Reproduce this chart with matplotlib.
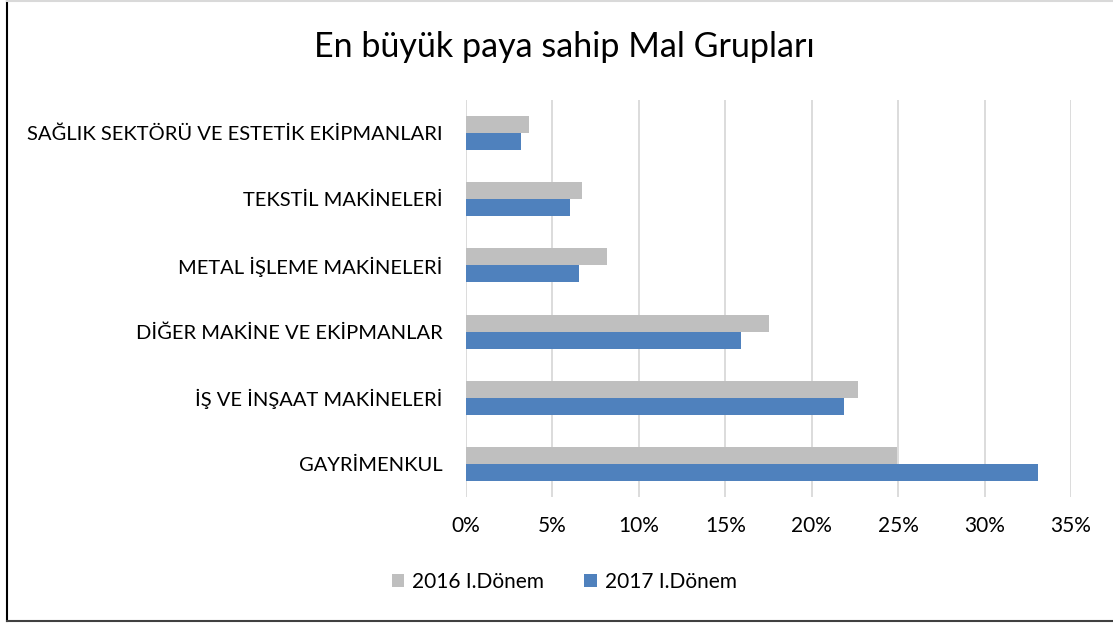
import numpy as np
import matplotlib.pyplot as plt
from matplotlib.lines import Line2D

plt.rcParams['font.family'] = ['Lato', 'DejaVu Sans']

categories = ['GAYRİMENKUL', 'İŞ VE İNŞAAT MAKİNELERİ', 'DİĞER MAKİNE VE EKİPMANLAR',
              'METAL İŞLEME MAKİNELERİ', 'TEKSTİL MAKİNELERİ',
              'SAĞLIK SEKTÖRÜ VE ESTETİK EKİPMANLARI']
vals_2016 = [24.96, 22.65, 17.52, 8.16, 6.72, 3.62]
vals_2017 = [33.10, 21.86, 15.93, 6.55, 6.03, 3.18]
series = ['2016 I.Dönem', '2017 I.Dönem']
xticks = [0, 5, 10, 15, 20, 25, 30, 35]

fig = plt.figure(figsize=(11.13, 6.23), dpi=100)
ax = fig.add_axes([0.4187, 0.2022, 0.9623 - 0.4187, 0.8395 - 0.2022])

y = np.arange(len(categories))
h = 0.257
ax.barh(y + h / 2, vals_2016, height=h, color='#bfbfbf', label=series[0], zorder=3)
ax.barh(y - h / 2, vals_2017, height=h, color='#4f81bd', label=series[1], zorder=3)

ax.set_xlim(0, 35)
ax.set_ylim(-0.5, len(categories) - 0.5)
ax.set_xticks(xticks)
ax.set_xticklabels([f'{t}%' for t in xticks], fontsize=15)
ax.set_yticks(y)
ax.set_yticklabels(categories, fontsize=14.5)
ax.tick_params(axis='both', length=0, colors='#000000')
ax.tick_params(axis='y', pad=17)
ax.tick_params(axis='x', pad=14)
ax.grid(axis='x', color='#d9d9d9', linewidth=1.3, zorder=0)
for s in ax.spines.values():
    s.set_visible(False)

fig.text(0.507, 0.925, 'En büyük paya sahip Mal Grupları', ha='center', va='center', fontsize=24.5)

ax.legend(loc='center', bbox_to_anchor=(0.507, 0.066), bbox_transform=fig.transFigure,
          ncol=2, frameon=False, fontsize=15, handlelength=0.6, handleheight=0.6,
          handletextpad=0.4, columnspacing=1.9)

# outer border
fig.add_artist(Line2D([0.0065, 0.0065], [0.003, 0.999], color='black', linewidth=1.5))
fig.add_artist(Line2D([0.0065, 0.999], [0.999, 0.999], color='#d9d9d9', linewidth=1.5))
fig.add_artist(Line2D([0.0065, 0.999], [0.004, 0.004], color='#404040', linewidth=1.5))

fig.savefig('out.png', dpi=100)
